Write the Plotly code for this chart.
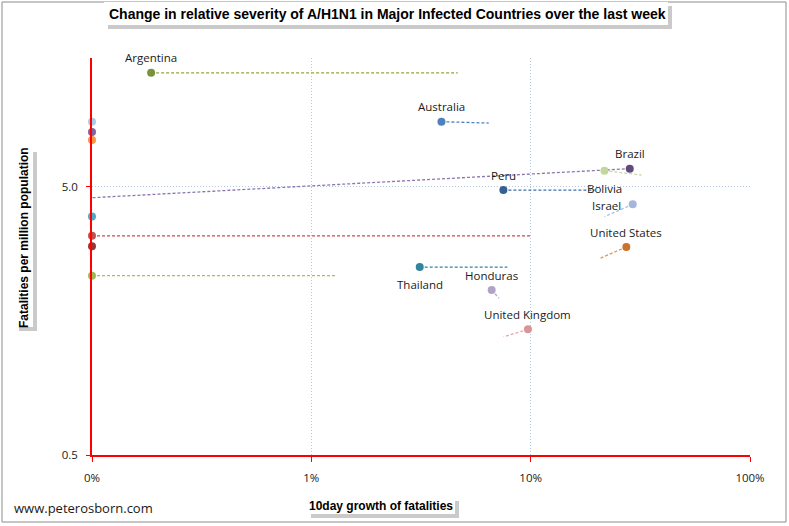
import math
import plotly.graph_objects as go

# ---------------- data ----------------
countries = ["Argentina", "Australia", "Brazil", "Bolivia", "Peru", "Israel",
             "United States", "Thailand", "Honduras", "United Kingdom",
             "", "", "", "", "", "", ""]
# 10-day growth of fatalities, in % (0% is drawn at the axis minimum 0.1%)
growth_now = [0.186, 3.92, 28.3, 21.7, 7.51, 29.2, 27.3, 3.12, 6.64, 9.72,
              0.1, 0.1, 0.1, 0.1, 0.1, 0.1, 0.1]
growth_prev = [4.65, 6.44, 0.1, 32.0, 19.6, 21.7, 20.8, 7.83, 7.17, 7.53,
               0.1, 0.1, 0.1, 0.1, 10.0, 0.1, 1.31]
# fatalities per million population
fatal_now = [13.3, 8.74, 5.84, 5.74, 4.86, 4.30, 2.98, 2.51, 2.06, 1.47,
             8.74, 8.0, 7.47, 3.87, 3.28, 3.0, 2.33]
fatal_prev = [13.3, 8.64, 4.55, 5.53, 4.86, 3.87, 2.71, 2.51, 1.92, 1.38,
              8.74, 8.0, 7.47, 3.87, 3.28, 3.0, 2.33]

x_tickvals = [0.1, 1, 10, 100]
x_ticktext = ["0%", "1%", "10%", "100%"]
y_tickvals = [0.5, 5]
y_ticktext = ["0.5", "5.0"]

# ---------------- styles ----------------
marker_colors = ["#77933C", "#4F81BD", "#604A7B", "#C3D69B", "#376092", "#A6B6DB",
                 "#C9732D", "#31859C", "#B3A2C7", "#D99694",
                 "#A9CCE3", "#8064A2", "#F79646", "#4BACC6", "#C0504D", "#953735", "#9BBB59"]
line_colors = ["#8EA83A", "#4F81BD", "#8B77AD", "#C9DAA6", "#3F6FAA", "#A9B9DD",
               "#E8914A", "#31859C", "#B9AACB", "#E2A8A6",
               "#A9CCE3", "#8064A2", "#F79646", "#4BACC6", "#D04A47", "#953735", "#A6C44A"]
# label placement relative to the marker (pixels; dy positive = up)
label_dx = [0, 0, 0, 0, 0, -26, 0, 0, 0, 0, 0, 0, 0, 0, 0, 0, 0]
label_dy = [15, 15, 15, -18, 15, -1, 15, -17, 15, 15, 0, 0, 0, 0, 0, 0, 0]

W, H = 789, 526
L, R, T, B = 92, 39, 58, 71
PW, PH = W - L - R, H - T - B


def px_x(px):
    return (px - L) / PW


def px_y(py):
    return (H - B - py) / PH


fig = go.Figure()

# connecting dashed lines (current -> previous)
for i in range(len(countries)):
    if growth_prev[i] == growth_now[i] and fatal_prev[i] == fatal_now[i]:
        continue
    fig.add_trace(go.Scatter(
        x=[growth_now[i], growth_prev[i]], y=[fatal_now[i], fatal_prev[i]],
        mode="lines", line=dict(color=line_colors[i], width=1.3, dash="3px,2px"),
        hoverinfo="skip", showlegend=False, cliponaxis=False))

# current markers
fig.add_trace(go.Scatter(
    x=growth_now, y=fatal_now, mode="markers", text=countries,
    marker=dict(size=8, color=marker_colors, line=dict(width=0)),
    showlegend=False, cliponaxis=False))

shapes = []
# outer border
shapes.append(dict(type="rect", xref="paper", yref="paper",
                   x0=px_x(2), x1=px_x(786), y0=px_y(522), y1=px_y(2),
                   line=dict(color="#8C8C8C", width=1), fillcolor="rgba(0,0,0,0)", layer="below"))


def boxed(x0, y0, x1, y1):
    shapes.append(dict(type="rect", xref="paper", yref="paper",
                       x0=px_x(x0 + 4), x1=px_x(x1 + 4), y0=px_y(y1 + 4), y1=px_y(y0 + 4),
                       line=dict(width=0), fillcolor="#CACACA", layer="below"))
    shapes.append(dict(type="rect", xref="paper", yref="paper",
                       x0=px_x(x0), x1=px_x(x1), y0=px_y(y1), y1=px_y(y0),
                       line=dict(width=0), fillcolor="white", layer="below"))


boxed(104, 2, 668, 25)      # title box
boxed(15, 148, 33, 327)     # y title box
boxed(307, 497, 455, 514)   # x title box

annotations = [
    dict(text="<b>Change in relative severity of A/H1N1 in Major Infected Countries over the last week</b>",
         xref="paper", yref="paper", x=px_x(387), y=px_y(14), showarrow=False,
         font=dict(family="Liberation Sans", size=14, color="#000000"),
         xanchor="center", yanchor="middle"),
    dict(text="<b>Fatalities per million population</b>",
         xref="paper", yref="paper", x=px_x(24), y=px_y(238), showarrow=False, textangle=-90,
         font=dict(family="Liberation Sans", size=12, color="#000000"),
         xanchor="center", yanchor="middle"),
    dict(text="<b>10day growth of fatalities</b>",
         xref="paper", yref="paper", x=px_x(381), y=px_y(506), showarrow=False,
         font=dict(family="Liberation Sans", size=12, color="#000000"),
         xanchor="center", yanchor="middle"),
    dict(text="www.peterosborn.com",
         xref="paper", yref="paper", x=px_x(12), y=px_y(508), showarrow=False,
         font=dict(family="Open Sans", size=13, color="#1a1a1a"),
         xanchor="left", yanchor="middle"),
]

# country labels, anchored to the data points
for i, name in enumerate(countries):
    if not name:
        continue
    annotations.append(dict(
        text=name, xref="x", yref="y",
        x=math.log10(growth_now[i]), y=math.log10(fatal_now[i]),
        xshift=label_dx[i], yshift=label_dy[i], showarrow=False,
        xanchor="center", yanchor="middle",
        font=dict(family="Open Sans", size=11.5, color="#1a1a1a")))

fig.update_layout(
    width=W, height=H,
    margin=dict(l=L, r=R, t=T, b=B, pad=0),
    paper_bgcolor="white", plot_bgcolor="white",
    shapes=shapes, annotations=annotations, showlegend=False,
    xaxis=dict(type="log", range=[-1, 2], tickvals=x_tickvals, ticktext=x_ticktext,
               showline=True, linecolor="#FF0000", linewidth=1.5,
               ticks="outside", ticklen=5, tickcolor="#FF0000", tickwidth=1,
               showgrid=True, gridcolor="#B3C9E2", griddash="1px,2px", gridwidth=1,
               zeroline=False, ticklabelstandoff=6,
               tickfont=dict(family="Open Sans", size=11.5, color="#1a1a1a")),
    yaxis=dict(type="log", range=[math.log10(0.5), math.log10(15.1)],
               tickvals=y_tickvals, ticktext=y_ticktext,
               showline=True, linecolor="#FF0000", linewidth=1.5,
               ticks="outside", ticklen=4, tickcolor="#FF0000", tickwidth=1,
               showgrid=True, gridcolor="#B3C9E2", griddash="1px,2px", gridwidth=1,
               zeroline=False, ticklabelstandoff=6,
               tickfont=dict(family="Open Sans", size=11.5, color="#1a1a1a")),
)

fig.write_html("out.html", config={"displayModeBar": False},
               post_script="document.body.style.margin='0px';")
